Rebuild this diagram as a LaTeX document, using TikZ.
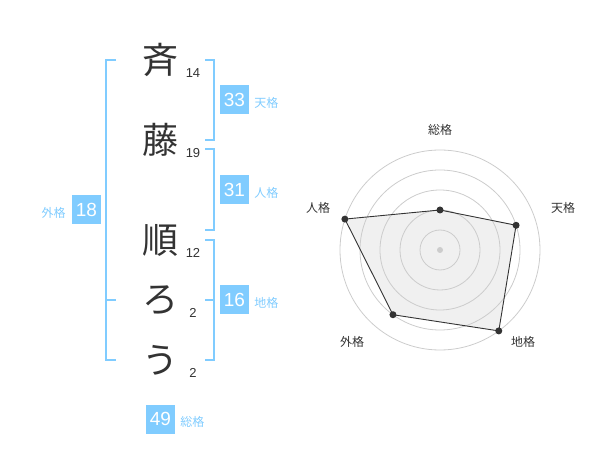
\documentclass[tikz,border=0pt]{standalone}
\usepackage{fontspec}
\setmainfont{Liberation Sans}
\newfontfamily\jp{Noto Sans CJK JP}
\usepackage{tikz}
\usetikzlibrary{positioning}

\definecolor{kaku}{HTML}{80CCFF}
\definecolor{ink}{HTML}{333333}
\definecolor{ring}{HTML}{CCCCCC}
\definecolor{area}{HTML}{F0F0F0}

\tikzset{
  moji/.style={text=ink, font=\jp\fontsize{36}{36}\selectfont, inner sep=0pt},
  kakusu/.style={text=ink, font=\fontsize{13}{13}\selectfont, inner sep=0pt},
  numbox/.style={fill=kaku, text=white, minimum size=29pt, inner sep=0pt, font=\fontsize{19}{19}\selectfont},
  kakuname/.style={text=kaku, font=\jp\fontsize{12}{12}\selectfont, inner sep=0pt},
  bracket/.style={draw=kaku, line width=2pt},
  axisname/.style={text=ink, font=\jp\fontsize{12}{12}\selectfont, inner sep=0pt},
  dot/.style={circle, fill=ink, inner sep=0pt, minimum size=7pt},
}

\begin{document}
\begin{tikzpicture}[x=1pt, y=-1pt]
\useasboundingbox (0,0) rectangle (600,470);
% name
\node[moji] (sai) at (160,60) {斉};
\node[moji] (fuji) at (160,140) {藤};
\node[moji] (jun) at (160,240) {順};
\node[moji] (ro) at (160,300) {ろ};
\node[moji] (u) at (160,360) {う};
\node[kakusu] (k1) at (193,73) {14};
\node[kakusu] (k2) at (193,153) {19};
\node[kakusu] (k3) at (193,253) {12};
\node[kakusu] (k4) at (193,313) {2};
\node[kakusu] (k5) at (193,373) {2};

% brackets
\draw[bracket] (116,60)--(106,60)--(106,360)--(116,360);
\draw[bracket] (106,300)--(116,300);
\draw[bracket] (205,60)--(214,60)--(214,140)--(205,140);
\draw[bracket] (205,149)--(214,149)--(214,230)--(205,230);
\draw[bracket] (205,240)--(214,240)--(214,360)--(205,360);
\draw[bracket] (205,300)--(214,300);

% kakusu boxes
\node[numbox] (ten) at (234.5,100) {33};
\node[kakuname, right=5pt of ten, yshift=-3pt] {天格};
\node[numbox] (jin) at (234.5,190) {31};
\node[kakuname, right=5pt of jin, yshift=-3pt] {人格};
\node[numbox] (chi) at (234.5,300) {16};
\node[kakuname, right=5pt of chi, yshift=-3pt] {地格};
\node[numbox] (gai) at (86.5,210) {18};
\node[kakuname, left=6pt of gai, yshift=-3pt] {外格};
\node[numbox] (sou) at (160.5,419) {49};
\node[kakuname, right=5pt of sou, yshift=-3pt] {総格};

% radar
\begin{scope}[shift={(440,250)}]
\coordinate (pSou) at (90:40pt);
\coordinate (pTen) at (18:80pt);
\coordinate (pChi) at (-54:100pt);
\coordinate (pGai) at (-126:80pt);
\coordinate (pJin) at (162:100pt);
\fill[area] (pSou)--(pTen)--(pChi)--(pGai)--(pJin)--cycle;
\foreach \r in {20,40,60,80,100}
  \draw[ring, line width=0.8pt] (0,0) circle (\r pt);
\fill[ring] (0,0) circle (3pt);
\draw[ink, line width=0.9pt] (pSou)--(pTen)--(pChi)--(pGai)--(pJin)--cycle;
\foreach \p in {pSou,pTen,pChi,pGai,pJin}
  \node[dot] at (\p) {};
\node[axisname] (aSou) at (0pt,120pt) {総格};
\node[axisname] (aTen) at (123pt,42pt) {天格};
\node[axisname] (aChi) at (83pt,-92pt) {地格};
\node[axisname] (aGai) at (-88pt,-92pt) {外格};
\node[axisname] (aJin) at (-122pt,42pt) {人格};
\end{scope}
\end{tikzpicture}
\end{document}
